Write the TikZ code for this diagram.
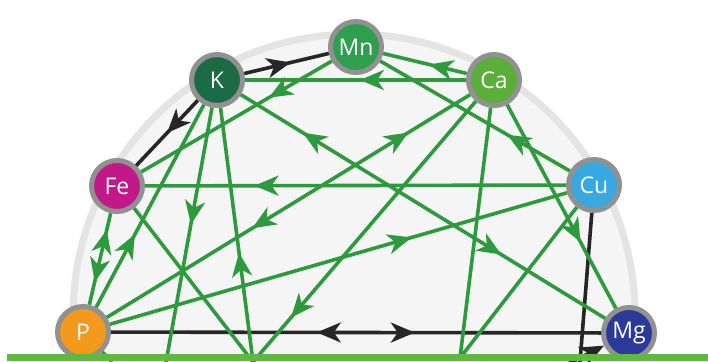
\documentclass[tikz,border=0pt]{standalone}
\usepackage{fontspec}
\newfontfamily\elemfont{Open Sans}
\usetikzlibrary{arrows.meta,decorations.markings}
\definecolor{ringgray}{RGB}{145,145,145}
\definecolor{discgray}{RGB}{245,245,245}
\definecolor{discring}{RGB}{228,228,228}
\definecolor{linkgreen}{RGB}{46,154,62}
\definecolor{linkblack}{RGB}{38,38,38}
\definecolor{barcol}{RGB}{98,182,66}
\definecolor{kcol}{RGB}{27,107,69}
\definecolor{mncol}{RGB}{46,158,79}
\definecolor{cacol}{RGB}{90,174,58}
\definecolor{fecol}{RGB}{194,24,138}
\definecolor{cucol}{RGB}{58,168,224}
\definecolor{pcol}{RGB}{243,154,30}
\definecolor{mgcol}{RGB}{43,58,154}
\tikzset{
	>={Stealth[length=24pt,width=20pt,inset=7pt]},
	elem/.style={circle, draw=ringgray, line width=5pt, minimum size=51pt, inner sep=0pt,
			text=white, font=\elemfont\fontsize{23}{23}\selectfont},
	link/.style={draw=linkgreen, line width=3.6pt},
	blink/.style={draw=linkblack, line width=3.6pt},
	fwd/.style={postaction={decorate, decoration={markings,
						mark=at position #1 with {\arrow{>}}}}},
	bwd/.style={postaction={decorate, decoration={markings,
						mark=at position #1 with {\arrowreversed{>}}}}}
}

\begin{document}
\begin{tikzpicture}[x=1pt,y=-1pt]
	\useasboundingbox (0,0) rectangle (708,361);
	\fill[white] (0,0) rectangle (708,361);
	\draw[fill=discgray, draw=discring, line width=7pt] (354,315) circle (281pt);

	\node[elem, fill=kcol] (K) at (217,80) {K};
	\node[elem, fill=mncol] (Mn) at (356,47) {Mn};
	\node[elem, fill=cacol] (Ca) at (494,80) {Ca};
	\node[elem, fill=fecol] (Fe) at (117,186) {Fe};
	\node[elem, fill=cucol] (Cu) at (594,185) {Cu};
	\node[elem, fill=pcol] (P) at (83,332) {P};
	\node[elem, fill=mgcol] (Mg) at (629,333) {Mg};
	\coordinate (bot0) at (112,362);
	\coordinate (bot1) at (166,362);
	\coordinate (bot2) at (253,362);
	\coordinate (bot3) at (460,358);
	\coordinate (bot4) at (580,362);
	\coordinate (bot5) at (560,368);

	\draw[blink, fwd=0.55] (K) -- (Mn);
	\draw[blink, fwd=0.5] (K) -- (Fe);
	\draw[blink, bwd=0.42, fwd=0.62] (P) -- (Mg);
	\draw[blink] (Cu) -- (bot4);
	\draw[blink, ->] (bot5) -- (Mg);
	\draw[link, fwd=0.45] (Ca) -- (Mn);
	\draw[link, fwd=0.48] (Ca) -- (K);
	\draw[link, fwd=0.33] (Mn) -- (Fe);
	\draw[link, fwd=0.74] (Cu) -- (Fe);
	\draw[link, fwd=0.33] (Cu) -- (Mn);
	\draw[link, bwd=0.17, fwd=0.715] (K) -- (Mg);
	\draw[link, bwd=0.25, fwd=0.82] (P) -- (Fe);
	\draw[link, fwd=0.36] (P) -- (K);
	\draw[link, bwd=0.40, fwd=0.83] (P) -- (Ca);
	\draw[link, fwd=0.66] (P) -- (Cu);
	\draw[link, fwd=0.675] (Ca) -- (Mg);
	\draw[link, fwd=0.46] (K) -- (bot1);
	\draw[link, fwd=0.43] (bot2) -- (K);
	\draw[link] (Fe) -- (bot2);
	\draw[link, fwd=0.83] (Ca) -- (bot2);
	\draw[link] (Ca) -- (bot3);
	\draw[link] (Cu) -- (bot3);
	\draw[link] (P) -- (bot0);

	\fill[barcol] (7,354) rectangle (708,361);
\end{tikzpicture}
\end{document}
